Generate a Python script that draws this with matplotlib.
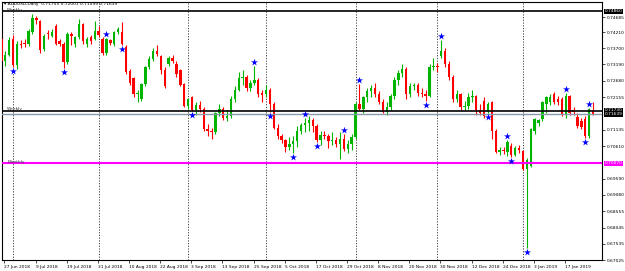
import matplotlib
matplotlib.use("Agg")
import matplotlib.pyplot as plt
import numpy as np

# ---------------- data ----------------
opens = [0.7400,0.7330,0.7350,0.7400,0.7318,0.7385,0.7388,0.7384,0.7420,0.7465,
         0.7455,0.7368,0.7418,0.7410,0.7440,0.7392,0.7384,0.7327,0.7415,0.7385,
         0.7405,0.7445,0.7383,0.7405,0.7400,0.7425,0.7400,0.7356,0.7396,0.7384,
         0.7422,0.7422,0.7375,0.7298,0.7275,0.7225,0.7210,0.7257,0.7312,0.7335,
         0.7360,0.7345,0.7300,0.7320,0.7340,0.7321,0.7300,0.7257,0.7188,0.7215,
         0.7175,0.7190,0.7180,0.7115,0.7110,0.7105,0.7165,0.7180,0.7150,0.7158,
         0.7210,0.7240,0.7275,0.7280,0.7245,0.7260,0.7270,0.7228,0.7225,0.7240,
         0.7195,0.7120,0.7095,0.7080,0.7060,0.7068,0.7078,0.7110,0.7128,0.7135,
         0.7145,0.7125,0.7080,0.7098,0.7095,0.7078,0.7080,0.7068,0.7085,0.7052,
         0.7068,0.7090,0.7195,0.7180,0.7215,0.7235,0.7245,0.7225,0.7200,0.7170,
         0.7185,0.7218,0.7270,0.7292,0.7305,0.7225,0.7250,0.7255,0.7228,0.7225,
         0.7220,0.7310,0.7315,0.7345,0.7360,0.7320,0.7280,0.7210,0.7225,0.7185,
         0.7188,0.7215,0.7218,0.7175,0.7205,0.7170,0.7200,0.7110,0.7043,0.7050,
         0.7043,0.7062,0.7035,0.7055,0.7045,0.6990,0.7000,0.7108,0.7135,0.7146,
         0.7195,0.7200,0.7225,0.7209,0.7209,0.7160,0.7218,0.7175,0.7153,0.7140,
         0.7148,0.7094,0.71755]
highs = [0.7410,0.7362,0.7405,0.7412,0.7392,0.7395,0.7398,0.7430,0.7479,0.7472,
         0.7460,0.7415,0.7428,0.7430,0.7445,0.7398,0.7390,0.7420,0.7420,0.7410,
         0.7463,0.7450,0.7405,0.7412,0.7455,0.7440,0.7405,0.7402,0.7400,0.7425,
         0.7438,0.7454,0.7380,0.7305,0.7280,0.7240,0.7262,0.7315,0.7345,0.7370,
         0.7380,0.7350,0.7310,0.7345,0.7350,0.7330,0.7305,0.7262,0.7212,0.7220,
         0.7200,0.7205,0.7185,0.7130,0.7118,0.7170,0.7195,0.7185,0.7175,0.7220,
         0.7250,0.7295,0.7300,0.7285,0.7270,0.7315,0.7275,0.7240,0.7255,0.7245,
         0.7200,0.7130,0.7100,0.7085,0.7090,0.7095,0.7125,0.7135,0.7150,0.7155,
         0.7150,0.7130,0.7110,0.7110,0.7100,0.7105,0.7090,0.7105,0.7100,0.7080,
         0.7100,0.7200,0.7258,0.7220,0.7245,0.7255,0.7260,0.7235,0.7210,0.7200,
         0.7225,0.7280,0.7300,0.7320,0.7310,0.7260,0.7260,0.7260,0.7245,0.7240,
         0.7320,0.7340,0.7325,0.7395,0.7370,0.7330,0.7285,0.7240,0.7230,0.7205,
         0.7230,0.7240,0.7222,0.7195,0.7215,0.7200,0.7205,0.7115,0.7060,0.7058,
         0.7080,0.7070,0.7062,0.7065,0.7050,0.7025,0.7118,0.7150,0.7148,0.7205,
         0.7218,0.7225,0.7232,0.7220,0.7215,0.7230,0.7222,0.7185,0.7165,0.7150,
         0.7155,0.7182,0.72001]
lows = [0.7320,0.7315,0.7345,0.7312,0.7305,0.7372,0.7375,0.7378,0.7415,0.7445,
        0.7355,0.7360,0.7400,0.7405,0.7380,0.7378,0.7308,0.7320,0.7380,0.7375,
        0.7400,0.7385,0.7375,0.7385,0.7395,0.7405,0.7350,0.7350,0.7380,0.7378,
        0.7415,0.7380,0.7290,0.7255,0.7215,0.7202,0.7205,0.7250,0.7305,0.7330,
        0.7345,0.7290,0.7245,0.7315,0.7325,0.7280,0.7250,0.7185,0.7180,0.7172,
        0.7160,0.7170,0.7110,0.7095,0.7085,0.7100,0.7155,0.7145,0.7140,0.7150,
        0.7200,0.7235,0.7255,0.7235,0.7235,0.7255,0.7215,0.7200,0.7215,0.7170,
        0.7115,0.7085,0.7070,0.7042,0.7050,0.7040,0.7060,0.7100,0.7105,0.7110,
        0.7105,0.7075,0.7065,0.7085,0.7055,0.7065,0.7060,0.7020,0.7045,0.7040,
        0.7050,0.7085,0.7175,0.7165,0.7200,0.7215,0.7215,0.7195,0.7165,0.7160,
        0.7175,0.7210,0.7255,0.7280,0.7210,0.7215,0.7240,0.7220,0.7215,0.7205,
        0.7215,0.7300,0.7295,0.7340,0.7310,0.7270,0.7200,0.7200,0.7175,0.7175,
        0.7180,0.7200,0.7160,0.7160,0.7150,0.7166,0.7085,0.7040,0.7035,0.7038,
        0.7030,0.7027,0.7030,0.7040,0.6985,0.6741,0.6995,0.7100,0.7125,0.7140,
        0.7165,0.7190,0.7195,0.7190,0.7155,0.7150,0.7160,0.7160,0.7120,0.7115,
        0.7088,0.7088,0.71599]
closes = [0.7330,0.7350,0.7395,0.7318,0.7384,0.7380,0.7383,0.7425,0.7465,0.7458,
          0.7365,0.7409,0.7414,0.7422,0.7384,0.7385,0.7327,0.7416,0.7408,0.7405,
          0.7448,0.7392,0.7400,0.7394,0.7425,0.7412,0.7356,0.7398,0.7388,0.7422,
          0.7432,0.7385,0.7295,0.7260,0.7225,0.7230,0.7257,0.7310,0.7337,0.7362,
          0.7352,0.7300,0.7250,0.7340,0.7330,0.7290,0.7255,0.7188,0.7210,0.7175,
          0.7190,0.7180,0.7115,0.7110,0.7105,0.7165,0.7180,0.7150,0.7158,0.7210,
          0.7240,0.7275,0.7280,0.7245,0.7260,0.7270,0.7225,0.7222,0.7240,0.7195,
          0.7120,0.7095,0.7080,0.7060,0.7068,0.7078,0.7110,0.7128,0.7135,0.7145,
          0.7125,0.7080,0.7098,0.7095,0.7078,0.7080,0.7068,0.7085,0.7052,0.7068,
          0.7090,0.7195,0.7180,0.7215,0.7235,0.7245,0.7225,0.7200,0.7170,0.7185,
          0.7218,0.7270,0.7292,0.7305,0.7225,0.7250,0.7255,0.7228,0.7225,0.7220,
          0.7310,0.7315,0.7310,0.7360,0.7320,0.7280,0.7210,0.7225,0.7185,0.7188,
          0.7215,0.7218,0.7175,0.7165,0.7155,0.7195,0.7110,0.7043,0.7050,0.7045,
          0.7075,0.7032,0.7055,0.7050,0.6990,0.7018,0.7115,0.7147,0.7144,0.7200,
          0.7215,0.7215,0.7200,0.7200,0.7162,0.7219,0.7165,0.7168,0.7125,0.7121,
          0.7092,0.7178,0.71639]

stars_up = [27, 65, 78, 88, 92, 113, 130, 145, 151]
stars_down = [3, 16, 31, 49, 69, 75, 81, 109, 125, 131, 135, 150]

xtick_idx = [0, 8, 16, 24, 32, 40, 48, 56, 64, 72, 80, 88, 96, 104, 112, 120, 128, 136, 144]
xtick_labels = ["27 Jun 2018", "9 Jul 2018", "19 Jul 2018", "31 Jul 2018", "10 Aug 2018",
                "22 Aug 2018", "3 Sep 2018", "13 Sep 2018", "25 Sep 2018", "5 Oct 2018",
                "17 Oct 2018", "29 Oct 2018", "8 Nov 2018", "20 Nov 2018", "30 Nov 2018",
                "12 Dec 2018", "24 Dec 2018", "3 Jan 2019", "17 Jan 2019"]
separators = [3, 25, 48, 68, 91, 112, 134]

ytick_values = [0.74685, 0.74210, 0.73700, 0.73190, 0.72680, 0.72155, 0.71135,
                0.70610, 0.69590, 0.69080, 0.68555, 0.68045, 0.67535, 0.67025]

weekly_top = 0.74860
weekly_low = 0.71730
monthly = 0.70070
bid = 0.71639
header = "AUDUSD,Daily  0.71755 0.72001 0.71599 0.71639"

# ---------------- plot ----------------
W, H = 625, 271
fig = plt.figure(figsize=(W / 100, H / 100), dpi=100)
ax = fig.add_axes([2 / W, 1 - 260 / H, 600 / W, 258 / H])
ax.set_xlim(0.18, 154.3)
ax.set_ylim(0.67086, 0.75159)

FS = 3.2
bull, bear = "#00b400", "#ff0000"
n = len(opens)
x = np.arange(n)
o = np.array(opens); c = np.array(closes); h = np.array(highs); l = np.array(lows)
col = np.where(c >= o, bull, bear)
ax.vlines(x, l, h, colors=col, linewidth=0.8, zorder=3)
body_h = np.maximum(np.abs(c - o), 0.00012)
ax.bar(x, body_h, bottom=np.minimum(o, c), width=0.62, color=col, linewidth=0, zorder=4)

# period separators
for s in separators:
    ax.axvline(s, color="#404040", linestyle=(0, (1.2, 1.6)), linewidth=0.7, zorder=1)

# horizontal levels
ax.axhline(weekly_top, color="black", linewidth=1.2, zorder=5)
ax.axhline(weekly_low, color="black", linewidth=1.2, zorder=5)
ax.axhline(bid, color="#8899aa", linewidth=1.0, zorder=5)
ax.axhline(monthly, color="#ff00ff", linewidth=1.5, zorder=5)

off = 0.0013
ax.scatter(np.array(stars_up), h[stars_up] + off, marker="*", s=28, color="#0000ff",
           linewidths=0, zorder=6)
ax.scatter(np.array(stars_down), l[stars_down] - off, marker="*", s=28, color="#0000ff",
           linewidths=0, zorder=6)

# texts
ax.text(0.004, 1.0, "\u25be " + header, transform=ax.transAxes, fontsize=FS,
        va="top", ha="left", color="black")
for lvl, name in [(weekly_top, "Weekly"), (weekly_low, "Weekly"), (monthly, "Monthly")]:
    ax.text(1.5, lvl + 0.00015, name, fontsize=FS, va="baseline", ha="left",
            color="#333333", zorder=7)

# axes styling
ax.yaxis.tick_right()
ax.set_yticks(ytick_values)
ax.set_yticklabels([f"{v:.5f}" for v in ytick_values])
ax.tick_params(axis="y", length=2, width=0.5, labelsize=FS, pad=1.5)
ax.set_xticks(np.array(xtick_idx) + 0.8)
ax.set_xticklabels(xtick_labels)
ax.tick_params(axis="x", length=2, width=0.5, labelsize=FS, pad=1.5)
for lab in ax.get_xticklabels():
    lab.set_ha("left")
for sp in ax.spines.values():
    sp.set_linewidth(0.8)

# price boxes on right axis
ytr = ax.get_yaxis_transform()
for lvl, bg in [(weekly_top, "black"), (monthly, "#ff00ff")]:
    ax.text(1.004, lvl, f"{lvl:.5f}", transform=ytr, fontsize=FS, va="center", ha="left",
            color="white", zorder=8, clip_on=False,
            bbox=dict(boxstyle="square,pad=0.15", fc=bg, ec="none"))
ax.text(1.004, (weekly_low + bid) / 2, f"{weekly_low:.5f}\n{bid:.5f}", transform=ytr,
        fontsize=FS, va="center", ha="left", color="white", zorder=8, clip_on=False,
        linespacing=0.95, bbox=dict(boxstyle="square,pad=0.1", fc="black", ec="none"))

fig.savefig("out.png", dpi=100)
